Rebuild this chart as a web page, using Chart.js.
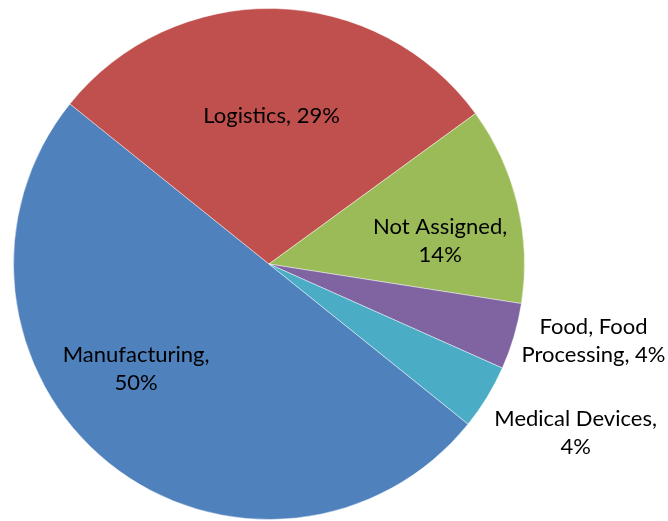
<!DOCTYPE html>
<html>
<head>
<meta charset="utf-8">
<script src="https://cdn.jsdelivr.net/npm/chart.js@4"></script>
<style>
  html, body { margin: 0; padding: 0; background: #fff; }
  #wrap { width: 668px; height: 521px; }
</style>
</head>
<body>
<div id="wrap"><canvas id="pieChart" width="668" height="521"></canvas></div>
<script>
// Chart data (slice sizes, printed percentages as labelled)
const categories = ["Manufacturing", "Logistics", "Not Assigned", "Food, Food Processing", "Medical Devices"];
const shares = [50.0, 29.2, 12.5, 4.2, 4.1];
const printedPct = ["50%", "29%", "14%", "4%", "4%"];
const labelLines = [
    ["Manufacturing,", "50%"],
    ["Logistics, 29%"],
    ["Not Assigned,", "14%"],
    ["Food, Food", "Processing, 4%"],
    ["Medical Devices,", "4%"]
];
const sliceColors = ["#4F81BD", "#C0504D", "#9BBB59", "#8064A2", "#4BACC6"];

// label anchor, in units of the pie radius from its centre
const labelAnchor = [
    [-0.52, 0.41],
    [0.01, -0.58],
    [0.67, -0.09],
    [1.27, 0.30],
    [1.20, 0.66]
];

const labelPlugin = {
    id: 'sliceLabels',
    afterDatasetsDraw(chart) {
        const arc = chart.getDatasetMeta(0).data[0];
        if (!arc) return;
        const { x, y, outerRadius } = arc.getProps(['x', 'y', 'outerRadius'], true);
        const ctx = chart.ctx;
        ctx.save();
        ctx.fillStyle = '#000';
        ctx.font = "22px Lato, 'Open Sans', sans-serif";
        ctx.textAlign = 'center';
        ctx.textBaseline = 'middle';
        const lineH = 28;
        labelLines.forEach((lines, i) => {
            const cx = x + labelAnchor[i][0] * outerRadius;
            const cy = y + labelAnchor[i][1] * outerRadius;
            const top = cy - (lines.length - 1) * lineH / 2;
            lines.forEach((t, k) => ctx.fillText(t, cx, top + k * lineH));
        });
        ctx.restore();
    }
};

new Chart(document.getElementById('pieChart'), {
    type: 'pie',
    data: {
        labels: categories,
        datasets: [{
            data: shares,
            backgroundColor: sliceColors,
            borderColor: 'rgba(255,255,255,0.45)',
            borderWidth: 1
        }]
    },
    options: {
        responsive: false,
        animation: false,
        rotation: 128.8,
        layout: { padding: { left: 13, right: 143, top: 8, bottom: 1 } },
        plugins: {
            legend: { display: false },
            tooltip: { enabled: false }
        }
    },
    plugins: [labelPlugin]
});
</script>
</body>
</html>
